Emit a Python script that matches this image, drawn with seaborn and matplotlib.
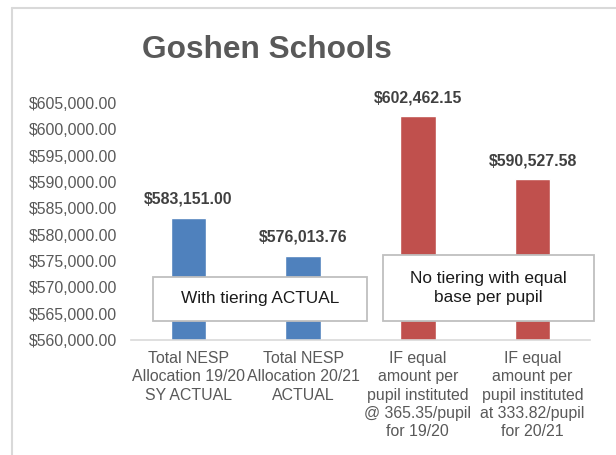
import matplotlib
matplotlib.use("Agg")
import matplotlib.pyplot as plt
import seaborn as sns
import pandas as pd
from matplotlib.patches import Rectangle
from matplotlib.lines import Line2D

categories = [
    "Total NESP\nAllocation 19/20\nSY ACTUAL",
    "Total NESP\nAllocation 20/21\nACTUAL",
    "IF equal\namount per\npupil instituted\n@ 365.35/pupil\nfor 19/20",
    "IF equal\namount per\npupil instituted\nat 333.82/pupil\nfor 20/21",
]
values = [583151.00, 576013.76, 602462.15, 590527.58]
groups = ["actual", "actual", "equal", "equal"]
title = "Goshen Schools"
box_texts = ["With tiering ACTUAL", "No tiering with equal\nbase per pupil"]

sns.set_theme(style="white")
plt.rcParams["font.family"] = ["Liberation Sans", "DejaVu Sans"]

W, H = 616, 455
fig = plt.figure(figsize=(W / 100, H / 100), dpi=100)
ax = fig.add_axes([131 / W, 1 - 340 / H, (590 - 131) / W, (340 - 103) / H])

df = pd.DataFrame({"cat": categories, "val": values, "grp": groups})
sns.barplot(data=df, x="cat", y="val", hue="grp", dodge=False,
            palette={"actual": "#4F81BD", "equal": "#C0504D"},
            width=0.31, legend=False, ax=ax, saturation=1)

ticks = list(range(560000, 605001, 5000))
ax.set_ylim(560000, 605000)
ax.set_yticks(ticks)
ax.set_yticklabels([f"${v:,.2f}" for v in ticks], fontsize=11.4, color="#595959")
ax.set_xticks(range(len(categories)))
ax.set_xticklabels(categories, fontsize=11.4, color="#595959", linespacing=1.27)
ax.set_xlabel("")
ax.set_ylabel("")
for s in ["top", "right", "left"]:
    ax.spines[s].set_visible(False)
ax.spines["bottom"].set_color("#D9D9D9")
ax.spines["bottom"].set_linewidth(1.2)
ax.tick_params(axis="y", length=0, pad=10)
ax.tick_params(axis="x", length=0, pad=8)

for i, v in enumerate(values):
    ax.annotate(f"${v:,.2f}", (i, v), xytext=(0, 8), textcoords="offset points",
                ha="center", va="bottom", fontsize=11.4, fontweight="bold",
                color="#404040", annotation_clip=False)

# title
fig.text(267 / W, 1 - 50 / H, title, ha="center", va="center",
         fontsize=22.8, fontweight="bold", color="#595959")

# text boxes (figure pixel coords)
boxes = [(153, 277, 367, 321), (383, 255, 594, 321)]
for (x0, y0, x1, y1), t in zip(boxes, box_texts):
    fig.patches.append(Rectangle((x0 / W, 1 - y1 / H), (x1 - x0) / W, (y1 - y0) / H,
                                 transform=fig.transFigure, facecolor="white",
                                 edgecolor="#BFBFBF", linewidth=1.3, zorder=5))
    fig.text((x0 + x1) / 2 / W, 1 - (y0 + y1) / 2 / H, t, ha="center", va="center",
             fontsize=12.4, color="#1A1A1A", linespacing=1.3, zorder=6)

# outer chart border (left and top visible)
fig.lines.append(Line2D([11.5 / W, 11.5 / W], [0, 1 - 8 / H], transform=fig.transFigure,
                        color="#D9D9D9", linewidth=1.5))
fig.lines.append(Line2D([11.5 / W, 1], [1 - 8 / H, 1 - 8 / H], transform=fig.transFigure,
                        color="#D9D9D9", linewidth=1.5))

fig.savefig("out.png", dpi=100)
